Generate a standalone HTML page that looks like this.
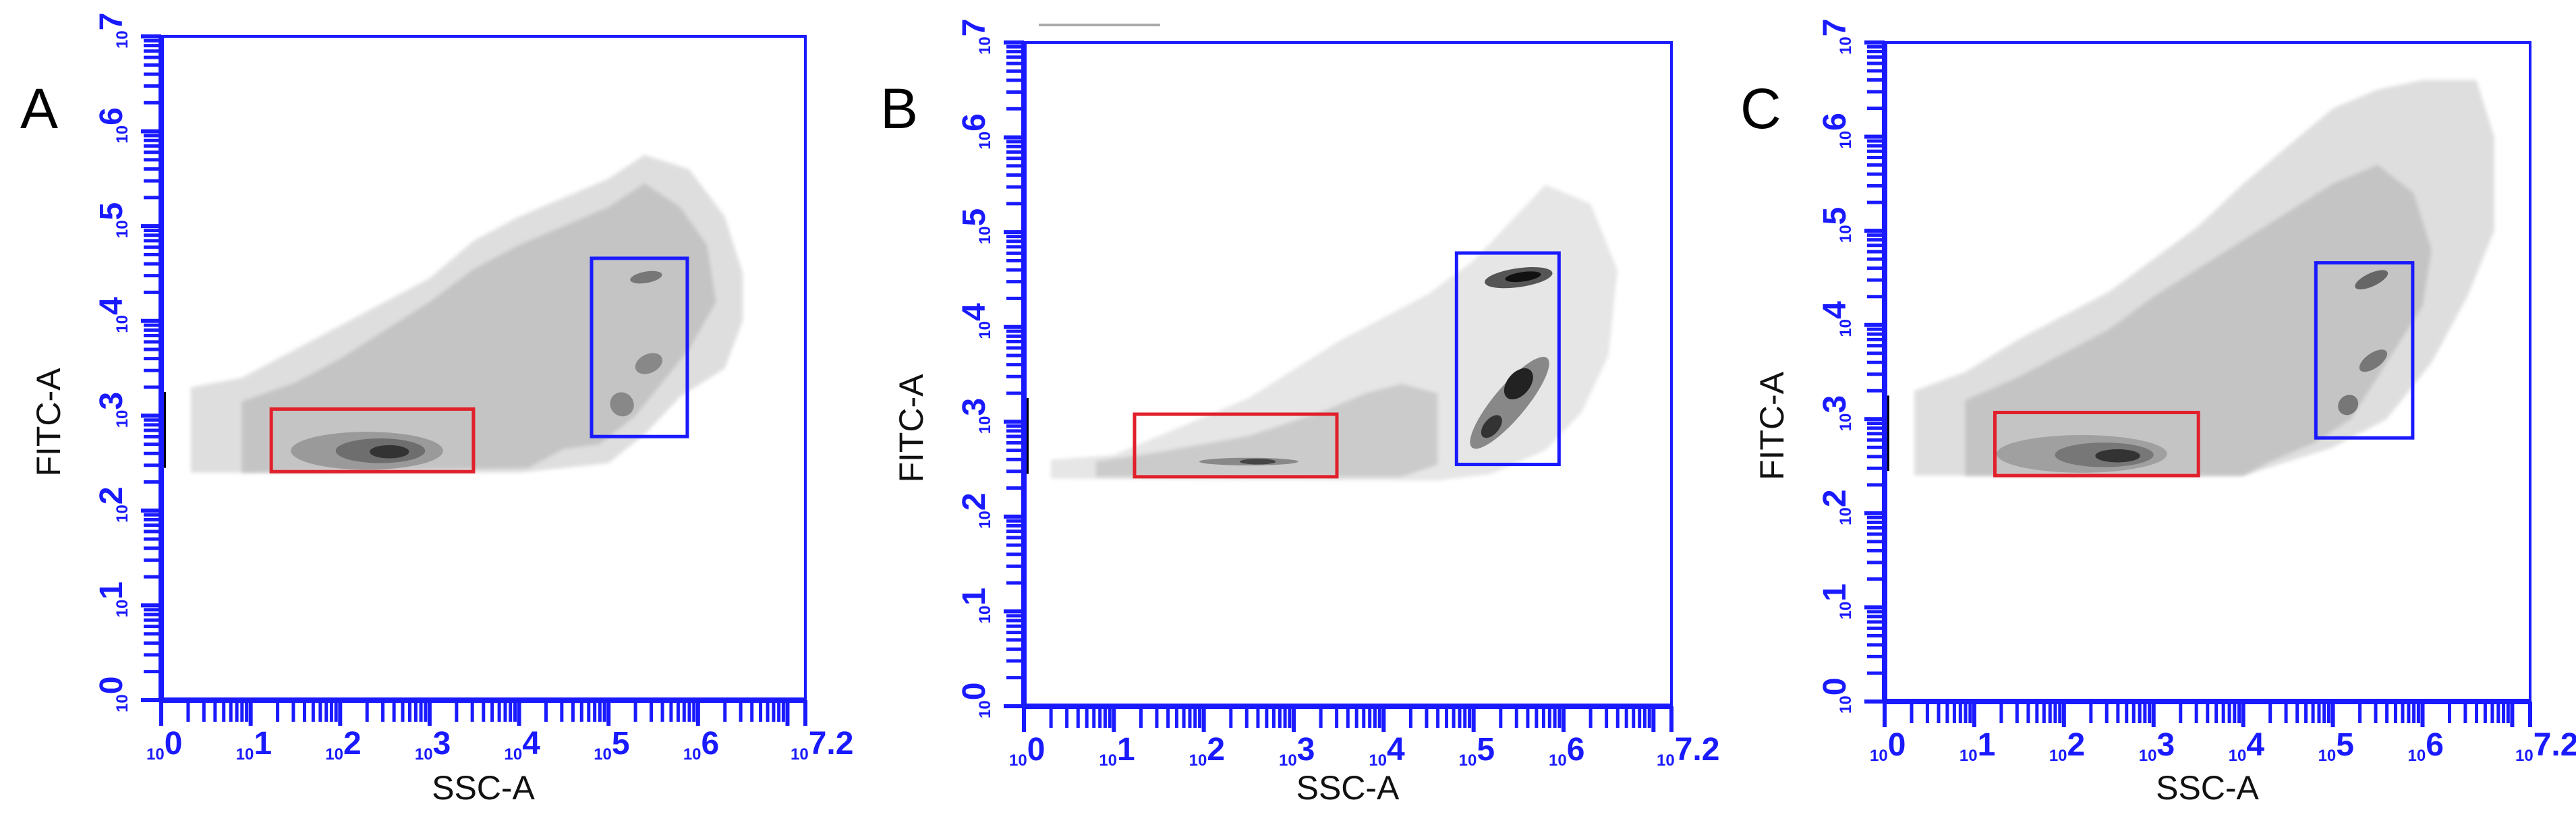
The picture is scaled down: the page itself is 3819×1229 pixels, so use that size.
<!DOCTYPE html>
<html><head><meta charset="utf-8"><style>
html,body{margin:0;padding:0;background:#fff;}
svg{display:block;}
text{font-family:"Liberation Sans",sans-serif;}
</style></head><body>
<svg id="fig" width="3819" height="1229" viewBox="0 0 3819 1229" xmlns="http://www.w3.org/2000/svg">
<defs><filter id="soft" x="-5%" y="-5%" width="110%" height="110%"><feGaussianBlur stdDeviation="3"/></filter></defs>
<line x1="1540" y1="37" x2="1720" y2="37" stroke="#aaa" stroke-width="4"/>
</svg>
<script>
const panelNames = ["A","B","C"];
const xMax = 7.2, yMax = 7;
const xDecades = [0,1,2,3,4,5,6,7];
const xDecadeLabels = ["0","1","2","3","4","5","6","7.2"];
const yDecades = [0,1,2,3,4,5,6,7];
const yDecadeLabels = ["0","1","2","3","4","5","6","7"];
const redGates = [[1.23,3.49,2.41,3.07],[1.23,3.48,2.42,3.08],[1.23,3.5,2.40,3.07]];
const blueGates = [[4.81,5.88,2.78,4.66],[4.81,5.95,2.55,4.78],[4.81,5.89,2.80,4.66]];
const sparseClouds = [
 [[0.33,2.4],[0.33,3.3],[0.9,3.4],[1.5,3.7],[2.0,3.95],[2.5,4.2],[3.0,4.45],[3.5,4.85],[4.0,5.1],[4.5,5.3],[5.0,5.5],[5.4,5.75],[5.9,5.6],[6.3,5.1],[6.5,4.5],[6.5,4.0],[6.3,3.5],[5.8,3.2],[5.4,2.8],[5.0,2.5],[4.5,2.45],[4.0,2.4]],
 [[0.3,2.4],[0.3,2.6],[1.0,2.65],[1.5,2.85],[2.0,3.05],[2.5,3.25],[3.0,3.55],[3.5,3.85],[4.0,4.1],[4.5,4.35],[5.0,4.7],[5.4,5.1],[5.8,5.5],[6.3,5.3],[6.6,4.6],[6.5,3.7],[6.2,3.1],[5.8,2.7],[5.2,2.45],[4.6,2.38]],
 [[0.33,2.4],[0.33,3.3],[0.9,3.5],[1.5,3.85],[2.0,4.1],[2.5,4.35],[3.0,4.7],[3.5,5.05],[4.0,5.5],[4.5,5.9],[5.0,6.3],[5.5,6.5],[6.0,6.6],[6.6,6.6],[6.8,6.0],[6.8,5.0],[6.5,4.3],[6.1,3.6],[5.6,3.0],[5.0,2.7],[4.5,2.55],[4.0,2.4]]
];
const denseClouds = [
 [[0.9,2.4],[0.9,3.15],[1.5,3.35],[2.0,3.6],[2.5,3.9],[3.0,4.2],[3.5,4.55],[4.0,4.8],[4.5,5.0],[5.0,5.2],[5.4,5.45],[5.8,5.2],[6.1,4.8],[6.2,4.2],[5.9,3.7],[5.3,3.0],[4.9,2.7],[4.5,2.65],[4.1,2.45]],
 [[0.8,2.42],[0.8,2.58],[1.5,2.68],[2.5,2.85],[3.3,3.1],[3.8,3.3],[4.2,3.4],[4.6,3.3],[4.6,2.55],[4.2,2.42]],
 [[0.9,2.4],[0.9,3.2],[1.5,3.45],[2.0,3.7],[2.5,3.95],[3.0,4.3],[3.5,4.6],[4.0,4.9],[4.5,5.2],[5.0,5.5],[5.5,5.7],[5.9,5.4],[6.1,4.8],[6.0,4.2],[5.6,3.6],[5.2,3.0],[4.8,2.75],[4.3,2.55],[4.0,2.4]]
];
const blobs = [
 [[2.3,2.63,0.85,0.2,0,"#9a9a9a"],[2.45,2.63,0.5,0.13,0,"#6e6e6e"],[2.55,2.62,0.22,0.07,0,"#333"],[5.42,4.46,0.18,0.06,-10,"#777"],[5.45,3.55,0.16,0.1,-25,"#888"],[5.15,3.12,0.13,0.13,-40,"#888"]],
 [[2.5,2.58,0.55,0.04,0,"#888"],[2.6,2.58,0.2,0.03,0,"#444"],[5.5,4.52,0.38,0.1,-8,"#555"],[5.55,4.53,0.2,0.05,-8,"#111"],[5.4,3.2,0.65,0.17,-50,"#888"],[5.5,3.4,0.2,0.12,-50,"#222"],[5.2,2.95,0.15,0.08,-50,"#333"]],
 [[2.2,2.63,0.95,0.2,0,"#a0a0a0"],[2.45,2.62,0.55,0.13,0,"#777"],[2.6,2.61,0.25,0.07,0,"#333"],[5.43,4.48,0.2,0.07,-25,"#666"],[5.45,3.62,0.18,0.08,-35,"#777"],[5.17,3.15,0.12,0.1,-45,"#777"]]
];
const panels = [
 {letter:[30,190], l:239,t:54,r:1194,b:1038},
 {letter:[1305,190], l:1518,t:63,r:2478,b:1047},
 {letter:[2580,190], l:2794,t:63,r:3751,b:1040}
];
const svg = document.getElementById('fig');
const NS = "http://www.w3.org/2000/svg";
function mk(tag, attrs, parent){const e=document.createElementNS(NS,tag);for(const k in attrs)e.setAttribute(k,attrs[k]);(parent||svg).appendChild(e);return e;}
const blue="#1a1aff";
panels.forEach((p,i)=>{
  const g = mk('g',{});
  
  
  const sx = v => p.l + v/xMax*(p.r-p.l);
  const sy = v => p.b - v/yMax*(p.b-p.t);
  const pts = arr => arr.map(q=>sx(q[0]).toFixed(1)+","+sy(q[1]).toFixed(1)).join(" ");
  const sc = mk('polygon',{points:pts(sparseClouds[i]),fill:"#d6d6d6","fill-opacity":i==1?0.6:0.8,filter:"url(#soft)"},g);
  
  
  const dc = mk('polygon',{points:pts(denseClouds[i]),fill:"#c4c4c4","fill-opacity":i==1?0.8:1,filter:"url(#soft)"},g);
  
  
  blobs[i].forEach(bl=>{
    const e = mk('ellipse',{cx:sx(bl[0]),cy:sy(bl[1]),rx:bl[2]/xMax*(p.r-p.l),ry:bl[3]/yMax*(p.b-p.t),fill:bl[5],transform:`rotate(${bl[4]} ${sx(bl[0])} ${sy(bl[1])})`},g);
    
    
  });
  const rg=redGates[i];
  const rr = mk('rect',{x:sx(rg[0]),y:sy(rg[3]),width:sx(rg[1])-sx(rg[0]),height:sy(rg[2])-sy(rg[3]),fill:"none",stroke:"#e0202a","stroke-width":5},g);
  
  
  const bg=blueGates[i];
  const br = mk('rect',{x:sx(bg[0]),y:sy(bg[3]),width:sx(bg[1])-sx(bg[0]),height:sy(bg[2])-sy(bg[3]),fill:"none",stroke:blue,"stroke-width":5},g);
  
  
  const fr = mk('rect',{x:p.l,y:p.t,width:p.r-p.l,height:p.b-p.t,fill:"none",stroke:blue,"stroke-width":4},g);
  
  
  mk('line',{x1:p.l+4,y1:sy(2.45),x2:p.l+4,y2:sy(3.25),stroke:"#000","stroke-width":6},g);
  mk('line',{x1:p.l,y1:p.b,x2:p.r,y2:p.b,stroke:blue,"stroke-width":8},g);
  mk('line',{x1:p.l,y1:p.t,x2:p.l,y2:p.b,stroke:blue,"stroke-width":8},g);
  for(let d=0; d<8; d++){
    for(let m=1;m<=9;m++){
      const v=d+Math.log10(m); if(v>xMax+1e-6) break;
      const X=sx(v);
      mk('line',{x1:X,y1:p.b,x2:X,y2:p.b+(m==1?38:32),stroke:blue,"stroke-width":m==1?6:5},g);
    }
  }
  mk('line',{x1:sx(xMax),y1:p.b,x2:sx(xMax),y2:p.b+38,stroke:blue,"stroke-width":6},g);
  for(let d=0; d<8; d++){
    for(let m=1;m<=9;m++){
      const v=d+Math.log10(m); if(v>yMax+1e-6) break;
      const Y=sy(v);
      mk('line',{x1:p.l,y1:Y,x2:p.l-(m==1?30:26),y2:Y,stroke:blue,"stroke-width":m==1?6:5},g);
    }
  }
  xDecades.forEach((d,k)=>{
    const v = k==7?xMax:d;
    const t = mk('text',{x:sx(v)-22,y:p.b+88,fill:blue,"font-size":24,"font-weight":"bold"},g);
    
    
    t.textContent="10";
    const e = mk('tspan',{"font-size":48,dy:-8,dx:0},t); e.textContent=xDecadeLabels[k];
  });
  yDecades.forEach((d,k)=>{
    const X=p.l-50, Y=sy(d)+18;
    const t = mk('text',{x:X,y:Y,fill:blue,"font-size":24,"font-weight":"bold",transform:`rotate(-90 ${X} ${Y})`},g);
    
    
    t.textContent="10";
    const e = mk('tspan',{"font-size":48,dy:-8,dx:0},t); e.textContent=yDecadeLabels[k];
  });
  const xt = mk('text',{x:(p.l+p.r)/2,y:1185,"text-anchor":"middle","font-size":50,fill:"#111"},g);
  
  
  xt.textContent="SSC-A";
  const yx=p.l-150, yy=(p.t+p.b)/2+80;
  const yt = mk('text',{x:yx,y:yy,"text-anchor":"middle","font-size":50,fill:"#111",transform:`rotate(-90 ${yx} ${yy})`},g);
  
  
  yt.textContent="FITC-A";
  const lt = mk('text',{x:p.letter[0],y:p.letter[1],"font-size":84,fill:"#000"},g);
  
  
  lt.textContent=panelNames[i];
});
</script>
</body></html>
